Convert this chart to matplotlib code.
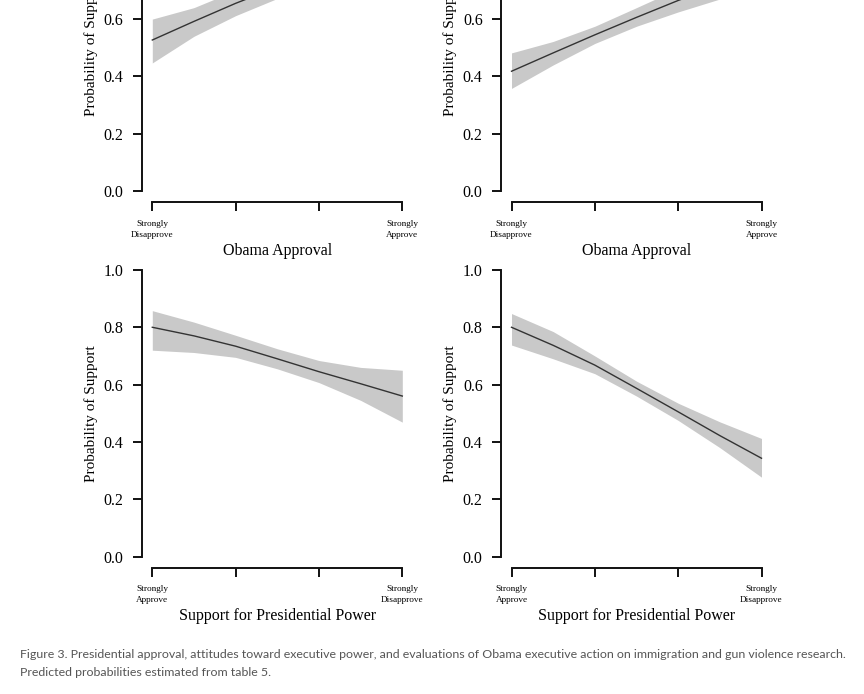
import matplotlib
matplotlib.use("Agg")
import matplotlib.pyplot as plt
import numpy as np

# ---- data ----
x_levels = [1, 1.5, 2, 2.5, 3, 3.5, 4]

# top-left: Obama approval (panel 1)
tl_mean = [0.527, 0.592, 0.655, 0.712, 0.763, 0.806, 0.842]
tl_low  = [0.447, 0.540, 0.612, 0.672, 0.724, 0.766, 0.800]
tl_high = [0.600, 0.640, 0.700, 0.752, 0.800, 0.843, 0.880]

# top-right: Obama approval (panel 2)
tr_mean = [0.418, 0.482, 0.545, 0.606, 0.665, 0.718, 0.766]
tr_low  = [0.358, 0.440, 0.515, 0.575, 0.625, 0.670, 0.715]
tr_high = [0.482, 0.522, 0.575, 0.640, 0.706, 0.765, 0.815]

# bottom-left: support for presidential power (panel 3)
bl_mean = [0.800, 0.770, 0.734, 0.690, 0.645, 0.603, 0.560]
bl_low  = [0.720, 0.712, 0.695, 0.655, 0.607, 0.545, 0.469]
bl_high = [0.858, 0.818, 0.772, 0.725, 0.684, 0.660, 0.650]

# bottom-right: support for presidential power (panel 4)
br_mean = [0.800, 0.737, 0.668, 0.587, 0.505, 0.422, 0.343]
br_low  = [0.738, 0.690, 0.638, 0.560, 0.475, 0.380, 0.277]
br_high = [0.848, 0.785, 0.700, 0.612, 0.535, 0.470, 0.412]

x_ticks = [1, 2, 3, 4]
approval_ticklabels = ["Strongly\nDisapprove", "", "", "Strongly\nApprove"]
power_ticklabels = ["Strongly\nApprove", "", "", "Strongly\nDisapprove"]
y_ticks = [0.0, 0.2, 0.4, 0.6, 0.8, 1.0]
y_ticklabels = ["0.0", "0.2", "0.4", "0.6", "0.8", "1.0"]

caption = ("Figure 3. Presidential approval, attitudes toward executive power, and evaluations of Obama "
           "executive action on immigration and gun violence research.\n"
           "Predicted probabilities estimated from table 5.")

# ---- figure ----
W, H = 864, 694
fig = plt.figure(figsize=(W / 100, H / 100), dpi=100)
serif = "Liberation Serif"

def add_panel(left_px, bottom_px, x, mean, low, high, ticklabels, xlabel):
    w_px = 270.0
    h_px = 309.5
    ax = fig.add_axes([left_px / W, 1 - bottom_px / H, w_px / W, h_px / H])
    ax.fill_between(x, low, high, color="#c9c9c9", linewidth=0)
    ax.plot(x, mean, color="#333333", linewidth=1.0)
    ax.set_xlim(0.88, 4.12)
    ax.set_ylim(-0.04, 1.04)
    for s in ["top", "right"]:
        ax.spines[s].set_visible(False)
    ax.spines["left"].set_bounds(0, 1)
    ax.spines["bottom"].set_bounds(1, 4)
    for s in ["left", "bottom"]:
        ax.spines[s].set_linewidth(1.4)
        ax.spines[s].set_color("#111111")
    ax.set_yticks(y_ticks)
    ax.set_yticklabels(y_ticklabels, fontfamily=serif, fontsize=11.5)
    ax.set_xticks(x_ticks)
    ax.set_xticklabels(ticklabels, fontfamily=serif, fontsize=6.7, linespacing=1.45)
    ax.tick_params(axis="both", length=6.5, width=1.4, color="#111111")
    ax.tick_params(axis="y", pad=7)
    ax.tick_params(axis="x", pad=6)
    ax.set_ylabel("Probability of Support", fontfamily=serif, fontsize=11, labelpad=4)
    ax.set_xlabel(xlabel, fontfamily=serif, fontsize=11.5, labelpad=3)
    ax.patch.set_visible(False)
    return ax

add_panel(142.3, 202.5, x_levels, tl_mean, tl_low, tl_high, approval_ticklabels, "Obama Approval")
add_panel(501.5, 202.5, x_levels, tr_mean, tr_low, tr_high, approval_ticklabels, "Obama Approval")
add_panel(142.3, 568.0, x_levels, bl_mean, bl_low, bl_high, power_ticklabels, "Support for Presidential Power")
add_panel(501.5, 568.0, x_levels, br_mean, br_low, br_high, power_ticklabels, "Support for Presidential Power")

fig.text(20 / W, 1 - 649 / H, caption, ha="left", va="top",
         fontfamily="Lato", fontsize=8.9, color="#555555",
         linespacing=1.75)

fig.savefig("out.png", dpi=100)
